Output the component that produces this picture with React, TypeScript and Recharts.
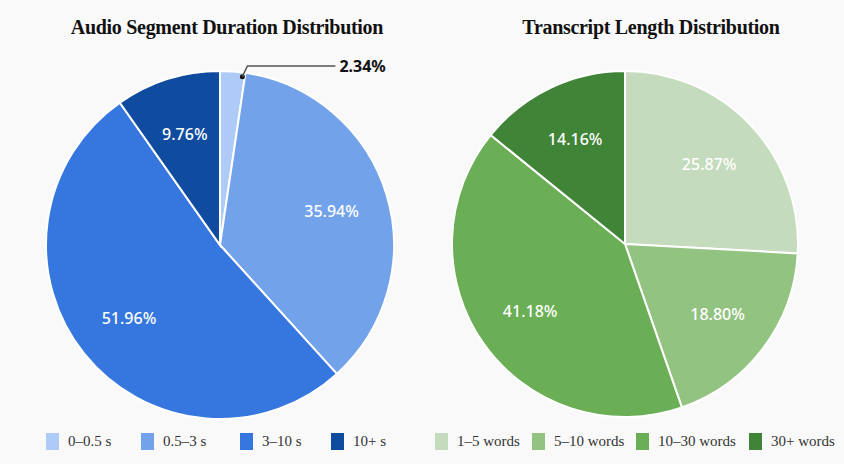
import { PieChart, Pie, Cell } from "recharts";

const durationLabels = ["0–0.5 s", "0.5–3 s", "3–10 s", "10+ s"];
const durationValues = [2.34, 35.94, 51.96, 9.76];
const durationColors = ["#adcbf6", "#71a2ea", "#3577de", "#0f4ca0"];

const lengthLabels = ["1–5 words", "5–10 words", "10–30 words", "30+ words"];
const lengthValues = [25.87, 18.8, 41.18, 14.16];
const lengthColors = ["#c4dcbd", "#93c381", "#6aae56", "#3f8437"];

const RADIAN = Math.PI / 180;

const toRows = (labels: string[], values: number[]) =>
  labels.map((name, i) => ({ name, value: values[i] }));

const durationData = toRows(durationLabels, durationValues);
const lengthData = toRows(lengthLabels, lengthValues);

const sansFont = "'Noto Sans', 'Open Sans', sans-serif";
const serifFont = "'Liberation Serif', 'Times New Roman', serif";

// white label inside the slice, or a leader line for tiny slices
const renderLabel = (props: any) => {
  const { cx, cy, midAngle, outerRadius, value } = props;
  const cos = Math.cos(-midAngle * RADIAN);
  const sin = Math.sin(-midAngle * RADIAN);
  const text = `${value.toFixed(2)}%`;
  if (value < 5) {
    const px = cx + outerRadius * 0.97 * cos + 10;
    const py = cy + outerRadius * 0.97 * sin;
    const ex = px + 5;
    const ey = cy - outerRadius - 5;
    return (
      <g>
        <circle cx={px} cy={py} r={2.5} fill="#111" />
        <polyline
          points={`${px},${py} ${ex},${ey} ${ex + 88},${ey}`}
          fill="none"
          stroke="#555"
          strokeWidth={1.5}
        />
        <text
          x={ex + 92}
          y={ey}
          dominantBaseline="central"
          fill="#111"
          fontFamily={sansFont}
          fontWeight={700}
          fontSize={16}
        >
          {text}
        </text>
      </g>
    );
  }
  const r = outerRadius * 0.67;
  return (
    <text
      x={cx + r * cos}
      y={cy + r * sin}
      textAnchor="middle"
      dominantBaseline="central"
      fill="#ffffff"
      fontFamily={sansFont}
      fontWeight={500}
      fontSize={16}
    >
      {text}
    </text>
  );
};

const LegendRow = ({
  labels,
  colors,
  xs,
}: {
  labels: string[];
  colors: string[];
  xs: number[];
}) => (
  <>
    {labels.map((l, i) => (
      <div
        key={l}
        style={{
          position: "absolute",
          left: xs[i],
          top: 433,
          display: "flex",
          alignItems: "center",
          fontFamily: serifFont,
          fontSize: 15,
          color: "#333",
          whiteSpace: "nowrap",
        }}
      >
        <span
          style={{
            display: "inline-block",
            width: 13,
            height: 17,
            background: colors[i],
            marginRight: 9,
          }}
        />
        {l}
      </div>
    ))}
  </>
);

const Title = ({ text, center }: { text: string; center: number }) => (
  <div
    style={{
      position: "absolute",
      left: center - 200,
      width: 400,
      top: 16,
      textAlign: "center",
      fontFamily: serifFont,
      fontWeight: 700,
      fontSize: 20,
      letterSpacing: -0.3,
      color: "#111",
    }}
  >
    {text}
  </div>
);

export default function App() {
  return (
    <div
      style={{
        position: "fixed",
        left: 0,
        top: 0,
        width: 844,
        height: 464,
        background: "#f9f9f9",
        overflow: "hidden",
      }}
    >
      <Title text="Audio Segment Duration Distribution" center={227} />
      <Title text="Transcript Length Distribution" center={651} />
      <PieChart
        width={844}
        height={464}
        margin={{ top: 0, right: 0, bottom: 0, left: 0 }}
        style={{ position: "absolute", left: 0, top: 0 }}
      >
        <Pie
          data={durationData}
          dataKey="value"
          nameKey="name"
          cx={220}
          cy={245}
          outerRadius={174}
          startAngle={90}
          endAngle={-270}
          stroke="#ffffff"
          strokeWidth={2}
          label={renderLabel}
          labelLine={false}
          isAnimationActive={false}
        >
          {durationData.map((d, i) => (
            <Cell key={d.name} fill={durationColors[i]} />
          ))}
        </Pie>
        <Pie
          data={lengthData}
          dataKey="value"
          nameKey="name"
          cx={625}
          cy={244}
          outerRadius={173}
          startAngle={90}
          endAngle={-270}
          stroke="#ffffff"
          strokeWidth={2}
          label={renderLabel}
          labelLine={false}
          isAnimationActive={false}
        >
          {lengthData.map((d, i) => (
            <Cell key={d.name} fill={lengthColors[i]} />
          ))}
        </Pie>
      </PieChart>
      <LegendRow labels={durationLabels} colors={durationColors} xs={[46, 141, 240, 331]} />
      <LegendRow labels={lengthLabels} colors={lengthColors} xs={[435, 532, 636, 749]} />
    </div>
  );
}
